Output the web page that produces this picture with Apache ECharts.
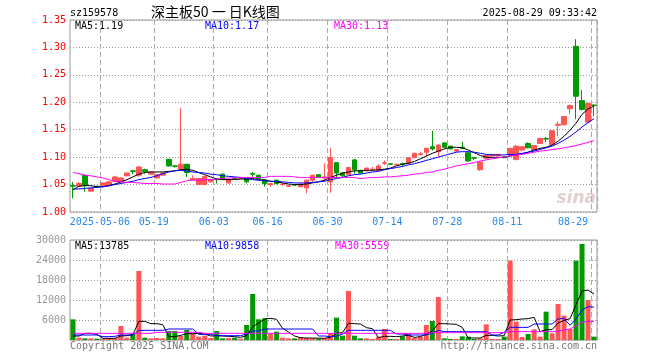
<!DOCTYPE html>
<html><head><meta charset="utf-8">
<script src="https://cdn.jsdelivr.net/npm/echarts/dist/echarts.min.js"></script>
<style>html,body{margin:0;padding:0;background:#fff}#c{width:660px;height:360px}</style>
</head><body><div id="c"></div>
<script>
// ---- data ----
const dates = ['2025-04-24','2025-04-25','2025-04-28','2025-04-29','2025-04-30',
'2025-05-06','2025-05-07','2025-05-08','2025-05-09','2025-05-12','2025-05-13','2025-05-14','2025-05-15','2025-05-16',
'2025-05-19','2025-05-20','2025-05-21','2025-05-22','2025-05-23','2025-05-26','2025-05-27','2025-05-28','2025-05-29','2025-05-30',
'2025-06-03','2025-06-04','2025-06-05','2025-06-06','2025-06-09','2025-06-10','2025-06-11','2025-06-12','2025-06-13',
'2025-06-16','2025-06-17','2025-06-18','2025-06-19','2025-06-20','2025-06-23','2025-06-24','2025-06-25','2025-06-26','2025-06-27',
'2025-06-30','2025-07-01','2025-07-02','2025-07-03','2025-07-04','2025-07-07','2025-07-08','2025-07-09','2025-07-10','2025-07-11',
'2025-07-14','2025-07-15','2025-07-16','2025-07-17','2025-07-18','2025-07-21','2025-07-22','2025-07-23','2025-07-24','2025-07-25',
'2025-07-28','2025-07-29','2025-07-30','2025-07-31','2025-08-01','2025-08-04','2025-08-05','2025-08-06','2025-08-07','2025-08-08',
'2025-08-11','2025-08-12','2025-08-13','2025-08-14','2025-08-15','2025-08-18','2025-08-19','2025-08-20','2025-08-21','2025-08-22',
'2025-08-25','2025-08-26','2025-08-27','2025-08-28','2025-08-29'];

const tickLabels = {'2025-05-06':'2025-05-06','2025-05-19':'05-19','2025-06-03':'06-03','2025-06-16':'06-16',
'2025-06-30':'06-30','2025-07-14':'07-14','2025-07-28':'07-28','2025-08-11':'08-11','2025-08-29':'08-29'};

const openP = [1.048,1.047,1.067,1.038,1.047,1.048,1.048,1.056,1.055,1.066,1.075,1.067,1.077,1.069,1.062,1.067,1.096,1.084,1.078,1.087,
1.059,1.050,1.050,1.055,1.060,1.069,1.053,1.062,1.061,1.061,1.070,1.067,1.059,1.050,1.058,1.050,1.047,1.0495,1.046,1.044,
1.058,1.068,1.062,1.055,1.090,1.071,1.068,1.095,1.076,1.075,1.077,1.076,1.089,1.088,1.086,1.088,1.089,1.099,1.105,1.109,
1.119,1.110,1.126,1.120,1.111,1.118,1.108,1.099,1.077,1.098,1.102,1.102,1.100,1.104,1.096,1.113,1.125,1.114,1.125,1.134,
1.123,1.158,1.159,1.188,1.302,1.203,1.164,1.195];
const closeP = [1.047,1.052,1.049,1.043,1.046,1.053,1.055,1.064,1.062,1.071,1.074,1.082,1.074,1.073,1.068,1.071,1.084,1.083,1.087,1.072,
1.061,1.061,1.065,1.059,1.059,1.060,1.059,1.061,1.062,1.055,1.069,1.061,1.052,1.052,1.052,1.051,1.048,1.049,1.051,1.058,
1.067,1.063,1.064,1.099,1.071,1.066,1.081,1.077,1.071,1.080,1.078,1.084,1.090,1.087,1.087,1.087,1.099,1.107,1.106,1.116,
1.115,1.122,1.118,1.115,1.114,1.116,1.093,1.098,1.091,1.103,1.105,1.105,1.099,1.116,1.120,1.119,1.117,1.121,1.134,1.133,
1.148,1.160,1.174,1.194,1.211,1.187,1.198,1.194];
const lowP = [1.025,1.046,1.037,1.037,1.044,1.047,1.046,1.055,1.054,1.065,1.069,1.064,1.069,1.068,1.061,1.066,1.083,1.081,1.077,1.064,
1.058,1.049,1.049,1.054,1.052,1.058,1.052,1.060,1.060,1.052,1.064,1.060,1.046,1.046,1.050,1.048,1.046,1.048,1.045,1.034,
1.055,1.062,1.056,1.035,1.062,1.064,1.067,1.070,1.070,1.074,1.075,1.075,1.086,1.086,1.085,1.083,1.088,1.098,1.103,1.101,
1.112,1.101,1.117,1.114,1.110,1.115,1.092,1.095,1.075,1.096,1.101,1.101,1.098,1.101,1.094,1.111,1.116,1.113,1.124,1.127,
1.122,1.138,1.158,1.179,1.169,1.185,1.163,1.175];
const highP = [1.055,1.055,1.068,1.044,1.048,1.054,1.056,1.065,1.063,1.072,1.077,1.084,1.079,1.074,1.069,1.072,1.097,1.086,1.190,1.088,
1.067,1.062,1.066,1.061,1.061,1.070,1.060,1.063,1.063,1.062,1.073,1.068,1.060,1.053,1.059,1.053,1.049,1.050,1.052,1.059,
1.068,1.069,1.089,1.117,1.091,1.072,1.082,1.097,1.077,1.081,1.082,1.087,1.094,1.089,1.088,1.090,1.100,1.108,1.110,1.117,
1.148,1.123,1.127,1.121,1.115,1.128,1.109,1.100,1.092,1.104,1.106,1.106,1.101,1.117,1.122,1.120,1.127,1.122,1.136,1.137,
1.149,1.165,1.175,1.196,1.315,1.222,1.200,1.196];

const ma5 = [1.040,1.047,1.048,1.048,1.046,1.046,1.048,1.051,1.055,1.059,1.064,1.069,1.072,1.073,1.073,1.073,1.074,1.075,1.077,1.078,
1.076,1.072,1.068,1.064,1.060,1.059,1.059,1.059,1.060,1.060,1.061,1.059,1.058,1.056,1.055,1.053,1.051,1.050,1.050,1.051,
1.053,1.055,1.058,1.063,1.067,1.071,1.073,1.075,1.075,1.076,1.076,1.077,1.078,1.080,1.084,1.087,1.089,1.092,1.097,1.102,
1.107,1.111,1.115,1.118,1.118,1.117,1.113,1.108,1.103,1.100,1.099,1.099,1.100,1.102,1.104,1.106,1.109,1.113,1.116,1.118,
1.122,1.129,1.138,1.149,1.162,1.178,1.188,1.193];
const ma10 = [1.042,1.042,1.043,1.044,1.045,1.046,1.048,1.050,1.052,1.054,1.056,1.059,1.061,1.063,1.066,1.070,1.073,1.075,1.076,1.075,
1.073,1.072,1.071,1.069,1.068,1.066,1.065,1.064,1.063,1.061,1.059,1.058,1.057,1.056,1.056,1.055,1.054,1.053,1.053,1.053,
1.054,1.055,1.056,1.059,1.061,1.063,1.066,1.068,1.069,1.071,1.073,1.074,1.077,1.079,1.081,1.083,1.086,1.088,1.091,1.094,
1.097,1.100,1.103,1.106,1.109,1.110,1.110,1.109,1.107,1.105,1.104,1.104,1.104,1.105,1.105,1.107,1.109,1.111,1.114,1.117,
1.120,1.125,1.131,1.138,1.146,1.155,1.163,1.170];
const ma30 = [1.072,1.070,1.067,1.066,1.064,1.062,1.059,1.056,1.055,1.054,1.054,1.053,1.052,1.052,1.052,1.051,1.051,1.051,1.054,1.057,
1.058,1.058,1.059,1.059,1.060,1.061,1.062,1.062,1.063,1.063,1.063,1.063,1.063,1.065,1.065,1.065,1.065,1.064,1.063,1.063,
1.063,1.063,1.063,1.063,1.063,1.063,1.063,1.063,1.061,1.062,1.063,1.063,1.064,1.064,1.065,1.066,1.067,1.069,1.070,1.072,
1.073,1.076,1.078,1.081,1.084,1.086,1.088,1.090,1.093,1.095,1.097,1.099,1.100,1.102,1.104,1.105,1.107,1.109,1.111,1.112,
1.114,1.115,1.117,1.119,1.121,1.124,1.127,1.130];

const volume = [6200,700,500,500,400,400,500,600,4200,700,2000,20700,700,500,600,500,2700,2700,1200,3000,
1800,1000,1300,600,2700,500,600,700,400,4500,13800,6200,6500,1800,2500,700,500,500,800,600,
500,400,500,2000,6700,1300,14700,1300,500,500,300,1000,3300,300,300,1100,1900,600,1000,4500,
5700,12900,500,300,300,1100,1000,300,500,4700,300,300,1000,23800,5500,900,1800,3200,1000,8500,
2000,10800,7300,3300,23800,28800,12000,1000];
const volMa5 = [1200,1200,2000,2000,1700,500,500,500,1200,1300,1600,5600,5600,4900,4900,4600,1000,1000,1400,1900,
1900,2000,1800,1200,1300,1200,1100,1000,800,1300,4000,5100,6300,6500,6200,3500,2400,1200,700,600,
600,550,500,800,2000,2200,5000,4900,4800,3700,3400,700,1100,1100,1000,1200,1400,800,1000,1800,
2700,4900,4900,4800,4700,3800,600,600,600,1400,1400,1200,1300,6000,6100,6300,6400,6800,2500,3100,
3100,5100,5900,6400,10600,14700,15000,13785];
const volMa10 = [1500,1500,1500,1500,1500,1000,1000,1100,1500,1500,1500,2900,2900,2900,2900,2900,3300,3300,3300,3300,
3300,1700,1700,1700,1300,1300,1300,1300,1300,1800,2700,2700,3300,3300,3300,3300,3300,3300,3300,3300,
3300,1200,1200,1000,1100,1800,2900,2900,2900,2900,2900,2900,2900,2900,1800,1800,1500,1500,1500,1500,
2100,2900,2500,2500,2500,2500,2500,2500,2500,2500,1500,1500,2300,3800,3800,3800,3800,4800,4800,4800,
4800,6300,6500,4400,6300,9000,10000,9858];
const volMa30 = [2000,2000,2000,2000,2000,2000,2000,2000,2000,2000,2000,2000,2000,2000,2300,2300,2300,2300,2300,2300,
2300,2300,2000,2000,2000,2000,2000,2000,2000,2000,2000,2000,2000,2000,2000,2000,2000,2000,2000,2000,
2000,2000,2000,2000,2000,2000,2000,2000,2000,2000,2000,2000,2000,2000,2000,2000,2000,2000,2000,2000,
2200,2200,2200,2200,2200,2200,2200,2200,2200,2200,2200,2200,2200,2500,2500,2500,2500,2500,2500,2500,
2500,2700,3000,3300,4300,5300,5600,5559];

const priceTicks = {min:1.00, max:1.35, step:0.05};
const volTicks = {min:0, max:30000, step:6000};
const priceMaLabels = ['MA5:1.19','MA10:1.17','MA30:1.13'];
const volMaLabels = ['MA5:13785','MA10:9858','MA30:5559'];
const headerCode = 'sz159578';
const headerTitle = '深主板50 一 日K线图';
const headerTime = '2025-08-29 09:33:42';
const footerLeft = 'Copyright 2025 SINA.COM';
const footerRight = 'http://finance.sina.com.cn';

// ---- chart ----
const UP = '#ff5555', DOWN = '#009a00';
const MONO = 'DejaVu Sans Mono';
const kData = dates.map((d,i)=>[openP[i],closeP[i],lowP[i],highP[i]]);
const volData = volume.map((v,i)=>({value:v,itemStyle:{color: closeP[i]>=openP[i]?UP:DOWN}}));
const showTick = (i,v)=> tickLabels[dates[i]]!==undefined;

function xAxisCfg(g, withLabels){
  return {type:'category', gridIndex:g, data:dates, boundaryGap:true,
    axisLine:{show:false}, axisTick:{show:false},
    axisLabel:{show:withLabels, interval:showTick, formatter:(v)=>tickLabels[v]||'',
      color:'#2a88e8', fontFamily:MONO, fontSize:10, margin:5, padding:[0,6,0,0], alignMaxLabel:'right'},
    splitLine:{show:true, interval:showTick, lineStyle:{color:'#aaa', width:1, type:[5,3]}}};
}
function yAxisCfg(g, t, color, fmt){
  return {type:'value', gridIndex:g, min:t.min, max:t.max, interval:t.step,
    axisLine:{show:false}, axisTick:{show:false},
    axisLabel:{color:color, fontFamily:MONO, fontSize:10, margin:4, formatter:fmt},
    splitLine:{show:true, lineStyle:{color:'#999', width:1, type:[1,2]}}};
}
const lineS = (name,data,color,xi,yi)=>({name, type:'line', data, xAxisIndex:xi, yAxisIndex:yi,
  showSymbol:false, symbol:'none', smooth:false, lineStyle:{color, width:1}, z:5, silent:true});

const txt = (s, style)=>({type:'text', silent:true, style:Object.assign({text:s, fill:'#000', font:'10px "DejaVu Sans Mono"'}, style)});

const option = {
  animation:false, backgroundColor:'#fff',
  grid:[{left:70, top:20, width:527, height:192, show:true, borderColor:'#999', borderWidth:1},
        {left:70, top:240, width:527, height:100, show:true, borderColor:'#999', borderWidth:1}],
  xAxis:[xAxisCfg(0,true), xAxisCfg(1,false)],
  yAxis:[yAxisCfg(0, priceTicks, '#ff0000', v=>v.toFixed(2)),
         yAxisCfg(1, volTicks, '#999', v=> v===0 ? '' : String(v))],
  series:[
    {type:'candlestick', data:kData, xAxisIndex:0, yAxisIndex:0, barWidth:5,
     itemStyle:{color:UP, color0:DOWN, borderColor:UP, borderColor0:DOWN, borderWidth:1}},
    lineS('MA5',ma5,'#000000',0,0), lineS('MA10',ma10,'#0000ff',0,0), lineS('MA30',ma30,'#ff00ff',0,0),
    {type:'bar', data:volData, xAxisIndex:1, yAxisIndex:1, barWidth:5},
    lineS('VMA5',volMa5,'#000000',1,1), lineS('VMA10',volMa10,'#0000ff',1,1), lineS('VMA30',volMa30,'#ff00ff',1,1)
  ],
  graphic:[
    Object.assign(txt(headerCode,{}),{left:70, top:8}),
    Object.assign(txt(headerTitle,{font:'14px "Noto Sans CJK SC"'}),{left:151, top:5}),
    Object.assign(txt(headerTime,{}),{right:63, top:8}),
    Object.assign(txt(priceMaLabels[0],{fill:'#000'}),{left:75, top:21}),
    Object.assign(txt(priceMaLabels[1],{fill:'#0000ff'}),{left:205, top:21}),
    Object.assign(txt(priceMaLabels[2],{fill:'#ff00ff'}),{left:334, top:21}),
    Object.assign(txt(volMaLabels[0],{fill:'#000'}),{left:75, top:241}),
    Object.assign(txt(volMaLabels[1],{fill:'#0000ff'}),{left:205, top:241}),
    Object.assign(txt(volMaLabels[2],{fill:'#ff00ff'}),{left:335, top:241}),
    Object.assign(txt(footerLeft,{fill:'#777'}),{left:70, top:341}),
    Object.assign(txt(footerRight,{fill:'#777'}),{right:63, top:341}),
    Object.assign(txt('sina',{fill:'rgba(190,150,150,0.45)', font:'italic bold 17px "DejaVu Sans"'}),{right:64, top:190})
  ]
};
echarts.init(document.getElementById('c'),null,{renderer:'canvas'}).setOption(option);
</script></body></html>
